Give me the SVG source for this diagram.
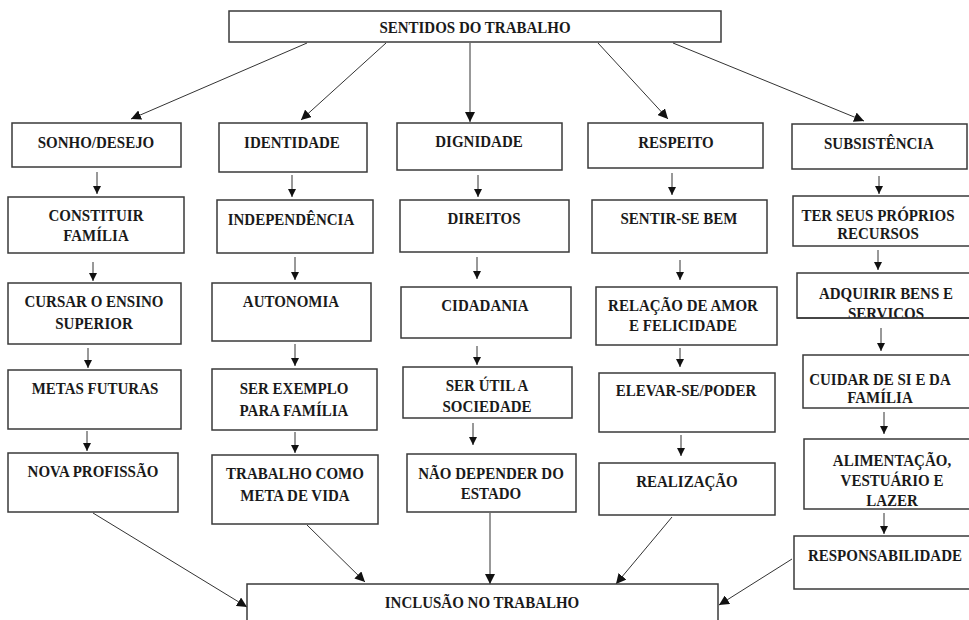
<svg xmlns="http://www.w3.org/2000/svg" width="969" height="620" viewBox="0 0 969 620">
  <style>
    .box { fill: #ffffff; stroke: #3a3a3a; stroke-width: 1.5; }
    .lbl { font-family: "Liberation Serif", "Times New Roman", serif; font-weight: bold; font-size: 15px; fill: #1a1a1a; text-anchor: middle;
           transform-box: fill-box; transform-origin: center; transform: scaleY(1.1); }
    .link { fill: none; stroke: #333333; stroke-width: 1; }
    .short { marker-end: url(#headS); }
    .long { marker-end: url(#headL); }
  </style>
  <defs>
    <marker id="headS" markerUnits="userSpaceOnUse" markerWidth="8" markerHeight="8" viewBox="0 0 10 10" refX="10" refY="5" orient="auto">
      <path d="M0,0 L10,5 L0,10 z" fill="#111111"/>
    </marker>
    <marker id="headL" markerUnits="userSpaceOnUse" markerWidth="10" markerHeight="10" viewBox="0 0 10 10" refX="10" refY="5" orient="auto">
      <path d="M0,0 L10,5 L0,10 z" fill="#111111"/>
    </marker>
    <clipPath id="clipAdq">
      <rect x="797" y="273" width="180" height="45"/>
    </clipPath>
  </defs>

  <rect width="969" height="620" fill="#ffffff"/>

  <!-- connectors -->
  <g id="connectors">
    <!-- top to the five meanings -->
    <line class="link long" x1="307" y1="43" x2="131" y2="119"/>
    <line class="link long" x1="386" y1="43" x2="301" y2="120"/>
    <line class="link long" x1="470" y1="43" x2="470" y2="122"/>
    <line class="link long" x1="598" y1="43" x2="668" y2="119"/>
    <line class="link long" x1="673" y1="43" x2="864" y2="121"/>

    <!-- column 1 -->
    <line class="link short" x1="97" y1="172" x2="97" y2="194"/>
    <line class="link short" x1="93" y1="262" x2="93" y2="281"/>
    <line class="link short" x1="88" y1="348" x2="88" y2="368"/>
    <line class="link short" x1="87" y1="431" x2="87" y2="451"/>

    <!-- column 2 -->
    <line class="link short" x1="292" y1="175" x2="292" y2="197"/>
    <line class="link short" x1="295" y1="257" x2="295" y2="280"/>
    <line class="link short" x1="295" y1="344" x2="295" y2="366"/>
    <line class="link short" x1="295" y1="432" x2="295" y2="453"/>

    <!-- column 3 -->
    <line class="link short" x1="478" y1="175" x2="478" y2="197"/>
    <line class="link short" x1="477" y1="257" x2="477" y2="279"/>
    <line class="link short" x1="477" y1="346" x2="477" y2="365"/>
    <line class="link short" x1="473" y1="423" x2="473" y2="445"/>

    <!-- column 4 -->
    <line class="link short" x1="672" y1="173" x2="672" y2="195"/>
    <line class="link short" x1="680" y1="260" x2="680" y2="280"/>
    <line class="link short" x1="680" y1="348" x2="680" y2="367"/>
    <line class="link short" x1="681" y1="435" x2="681" y2="456"/>

    <!-- column 5 -->
    <line class="link short" x1="879" y1="176" x2="879" y2="194"/>
    <line class="link short" x1="878" y1="250" x2="878" y2="270"/>
    <line class="link short" x1="881" y1="328" x2="881" y2="351"/>
    <line class="link short" x1="884" y1="412" x2="884" y2="434"/>
    <line class="link short" x1="884" y1="513" x2="884" y2="534"/>

    <!-- into the bottom box -->
    <line class="link long" x1="93" y1="513" x2="247" y2="607"/>
    <line class="link long" x1="307" y1="525" x2="365" y2="582"/>
    <line class="link long" x1="490" y1="513" x2="490" y2="584"/>
    <line class="link long" x1="672" y1="517" x2="616" y2="584"/>
    <line class="link long" x1="792" y1="559" x2="719" y2="605"/>
  </g>

  <!-- top -->
  <g id="sentidos">
    <rect class="box" x="229" y="11" width="492" height="31"/>
    <text class="lbl" x="475" y="32">SENTIDOS DO TRABALHO</text>
  </g>

  <!-- row 1 -->
  <g id="sonho">
    <rect class="box" x="12" y="123" width="169" height="44"/>
    <text class="lbl" x="96" y="147">SONHO/DESEJO</text>
  </g>
  <g id="identidade">
    <rect class="box" x="219" y="123" width="148" height="49"/>
    <text class="lbl" x="292" y="147">IDENTIDADE</text>
  </g>
  <g id="dignidade">
    <rect class="box" x="397" y="123" width="165" height="47"/>
    <text class="lbl" x="479" y="146">DIGNIDADE</text>
  </g>
  <g id="respeito">
    <rect class="box" x="588" y="123" width="175" height="45"/>
    <text class="lbl" x="676" y="147">RESPEITO</text>
  </g>
  <g id="subsistencia">
    <rect class="box" x="792" y="124" width="175" height="45"/>
    <text class="lbl" x="879" y="148">SUBSISTÊNCIA</text>
  </g>

  <!-- row 2 -->
  <g id="constituir">
    <rect class="box" x="8" y="197" width="176" height="56"/>
    <text class="lbl" x="96" y="220">CONSTITUIR</text>
    <text class="lbl" x="96" y="240">FAMÍLIA</text>
  </g>
  <g id="independencia">
    <rect class="box" x="217" y="200" width="156" height="53"/>
    <text class="lbl" x="291" y="224">INDEPENDÊNCIA</text>
  </g>
  <g id="direitos">
    <rect class="box" x="400" y="200" width="169" height="52"/>
    <text class="lbl" x="484" y="223">DIREITOS</text>
  </g>
  <g id="sentir">
    <rect class="box" x="592" y="200" width="175" height="53"/>
    <text class="lbl" x="679" y="223">SENTIR-SE BEM</text>
  </g>
  <g id="recursos">
    <rect class="box" x="793" y="196" width="184" height="50"/>
    <text class="lbl" x="878" y="220">TER SEUS PRÓPRIOS</text>
    <text class="lbl" x="878" y="238">RECURSOS</text>
  </g>

  <!-- row 3 -->
  <g id="cursar">
    <rect class="box" x="8" y="283" width="173" height="61"/>
    <text class="lbl" x="94" y="306">CURSAR O ENSINO</text>
    <text class="lbl" x="94" y="328">SUPERIOR</text>
  </g>
  <g id="autonomia">
    <rect class="box" x="212" y="283" width="159" height="58"/>
    <text class="lbl" x="291" y="306">AUTONOMIA</text>
  </g>
  <g id="cidadania">
    <rect class="box" x="401" y="287" width="170" height="51"/>
    <text class="lbl" x="485" y="310">CIDADANIA</text>
  </g>
  <g id="relacao">
    <rect class="box" x="596" y="287" width="181" height="58"/>
    <text class="lbl" x="683" y="310">RELAÇÃO DE AMOR</text>
    <text class="lbl" x="683" y="330">E FELICIDADE</text>
  </g>
  <g id="adquirir">
    <rect class="box" x="797" y="273" width="180" height="45"/>
    <g clip-path="url(#clipAdq)">
      <text class="lbl" x="886" y="298">ADQUIRIR BENS E</text>
      <text class="lbl" x="886" y="318">SERVICOS</text>
    </g>
    <line x1="797" y1="318" x2="977" y2="318" stroke="#3a3a3a" stroke-width="1.5"/>
  </g>

  <!-- row 4 -->
  <g id="metas">
    <rect class="box" x="8" y="370" width="173" height="59"/>
    <text class="lbl" x="95" y="393">METAS FUTURAS</text>
  </g>
  <g id="exemplo">
    <rect class="box" x="212" y="369" width="165" height="61"/>
    <text class="lbl" x="294" y="393">SER EXEMPLO</text>
    <text class="lbl" x="294" y="415">PARA FAMÍLIA</text>
  </g>
  <g id="util">
    <rect class="box" x="403" y="367" width="169" height="51"/>
    <text class="lbl" x="487" y="390">SER ÚTIL A</text>
    <text class="lbl" x="487" y="411">SOCIEDADE</text>
  </g>
  <g id="elevar">
    <rect class="box" x="599" y="373" width="176" height="59"/>
    <text class="lbl" x="686" y="395">ELEVAR-SE/PODER</text>
  </g>
  <g id="cuidar">
    <rect class="box" x="803" y="355" width="174" height="53"/>
    <text class="lbl" x="880" y="384">CUIDAR DE SI E DA</text>
    <text class="lbl" x="880" y="402">FAMÍLIA</text>
  </g>

  <!-- row 5 -->
  <g id="profissao">
    <rect class="box" x="8" y="453" width="170" height="59"/>
    <text class="lbl" x="93" y="476">NOVA PROFISSÃO</text>
  </g>
  <g id="meta-vida">
    <rect class="box" x="212" y="455" width="166" height="69"/>
    <text class="lbl" x="295" y="478">TRABALHO COMO</text>
    <text class="lbl" x="295" y="500">META DE VIDA</text>
  </g>
  <g id="estado">
    <rect class="box" x="407" y="454" width="169" height="58"/>
    <text class="lbl" x="491" y="478">NÃO DEPENDER DO</text>
    <text class="lbl" x="491" y="498">ESTADO</text>
  </g>
  <g id="realizacao">
    <rect class="box" x="599" y="463" width="176" height="52"/>
    <text class="lbl" x="687" y="486">REALIZAÇÃO</text>
  </g>
  <g id="alimentacao">
    <rect class="box" x="804" y="439" width="173" height="70"/>
    <text class="lbl" x="892" y="465">ALIMENTAÇÃO,</text>
    <text class="lbl" x="892" y="485">VESTUÁRIO E</text>
    <text class="lbl" x="892" y="505">LAZER</text>
  </g>
  <g id="responsabilidade">
    <rect class="box" x="794" y="536" width="183" height="53"/>
    <text class="lbl" x="885" y="560">RESPONSABILIDADE</text>
  </g>

  <!-- bottom -->
  <g id="inclusao">
    <rect class="box" x="247" y="584" width="471" height="50"/>
    <text class="lbl" x="482" y="607">INCLUSÃO NO TRABALHO</text>
  </g>
</svg>
